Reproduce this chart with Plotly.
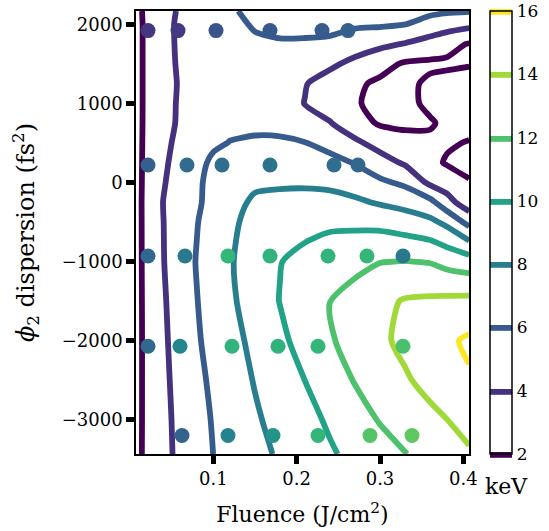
import plotly.graph_objects as go

# ---- contour grid (fluence x dispersion), values in keV ----
fluence_grid = [0.007, 0.020, 0.040, 0.060, 0.080, 0.100, 0.120, 0.150, 0.180,
                0.210, 0.240, 0.270, 0.300, 0.330, 0.360, 0.380, 0.407]
dispersion_grid = [-3433, -3000, -2500, -2000, -1500, -1000, -500, -250, 0,
                   250, 500, 750, 1000, 1250, 1500, 1750, 2000, 2168]
energy_grid = [
    [1.60, 2.32, 3.47, 4.43, 5.22, 6.01, 6.58, 7.42, 8.25, 9.02, 9.78, 10.51, 11.23, 11.94, 12.67, 13.15, 13.80],
    [1.56, 2.33, 3.52, 4.50, 5.33, 6.13, 6.78, 7.76, 8.61, 9.42, 10.27, 11.22, 12.12, 12.83, 13.53, 13.98, 14.60],
    [1.53, 2.35, 3.61, 4.63, 5.54, 6.35, 7.06, 8.11, 9.06, 10.01, 11.07, 12.10, 12.94, 13.78, 14.58, 15.10, 15.80],
    [1.50, 2.37, 3.70, 4.79, 5.79, 6.60, 7.35, 8.48, 9.60, 10.70, 11.80, 12.74, 13.64, 14.43, 15.16, 15.64, 16.30],
    [1.50, 2.39, 3.81, 4.90, 5.94, 6.82, 7.69, 8.85, 10.05, 11.00, 12.02, 12.76, 13.50, 14.15, 14.30, 14.40, 14.50],
    [1.50, 2.42, 3.94, 5.03, 6.08, 6.96, 7.84, 8.90, 9.95, 10.46, 10.95, 11.45, 11.94, 12.05, 11.90, 11.40, 10.95],
    [1.50, 2.43, 3.98, 4.96, 5.92, 6.78, 7.64, 8.60, 9.20, 9.50, 9.68, 9.60, 9.44, 8.98, 8.42, 7.57, 5.37],
    [1.50, 2.44, 4.03, 4.88, 5.75, 6.56, 7.35, 8.30, 8.43, 8.62, 8.62, 8.32, 7.80, 7.34, 6.54, 4.76, 2.83],
    [1.50, 2.40, 3.87, 4.82, 5.71, 6.50, 7.00, 7.68, 7.78, 7.74, 7.59, 7.13, 6.34, 5.64, 3.60, 3.06, 2.10],
    [1.50, 2.37, 3.71, 4.67, 5.52, 6.30, 6.70, 6.99, 6.99, 6.93, 6.62, 5.90, 4.80, 3.75, 2.50, 1.85, 1.60],
    [1.50, 2.34, 3.58, 4.43, 5.08, 5.74, 6.05, 6.15, 6.15, 6.05, 5.33, 4.38, 3.28, 2.55, 2.30, 2.20, 1.90],
    [1.50, 2.31, 3.46, 4.22, 4.60, 5.40, 5.60, 5.75, 5.70, 5.00, 4.10, 2.80, 1.80, 1.70, 1.85, 2.30, 2.60],
    [1.50, 2.30, 3.40, 4.20, 4.60, 4.90, 5.00, 5.00, 4.70, 3.95, 3.10, 2.14, 1.60, 1.60, 2.30, 2.60, 2.80],
    [1.50, 2.30, 3.35, 4.15, 4.50, 4.70, 4.80, 4.80, 4.60, 4.10, 3.20, 2.30, 1.70, 1.60, 2.30, 2.50, 2.60],
    [1.50, 2.30, 3.35, 4.25, 4.60, 4.80, 5.00, 5.10, 5.00, 4.70, 4.35, 3.50, 2.60, 1.80, 1.70, 1.75, 1.90],
    [1.50, 2.30, 3.40, 4.30, 4.80, 5.20, 5.40, 5.75, 5.80, 5.78, 5.64, 4.94, 4.42, 3.90, 3.10, 2.50, 1.90],
    [1.50, 2.30, 3.45, 4.30, 4.90, 5.30, 5.60, 6.15, 6.50, 6.50, 6.50, 6.30, 6.25, 6.02, 5.47, 4.97, 4.50],
    [1.60, 2.30, 3.37, 4.20, 4.73, 5.24, 5.85, 6.30, 6.70, 6.80, 6.80, 6.70, 6.60, 6.45, 6.30, 6.20, 6.10],
]

# ---- measured points ----
pts_fluence = [0.0216, 0.0576, 0.1032, 0.168, 0.2304, 0.2616,
               0.0216, 0.0684, 0.1104, 0.168, 0.2448, 0.2736,
               0.0216, 0.066, 0.1176, 0.168, 0.2376, 0.2844, 0.3276,
               0.0216, 0.060, 0.1224, 0.1776, 0.2256, 0.3276,
               0.0624, 0.1176, 0.1716, 0.2256, 0.288, 0.3384]
pts_dispersion = [1920] * 6 + [220] * 6 + [-930] * 7 + [-2070] * 6 + [-3200] * 6
pts_energy = [4.2, 4.4, 5.7, 5.9, 6.0, 6.4,
              6.2, 6.9, 7.1, 7.3, 7.0, 6.6,
              6.6, 7.7, 11.3, 11.1, 11.1, 11.3, 7.6,
              6.7, 8.4, 11.1, 11.0, 11.3, 11.9,
              6.4, 8.2, 9.2, 11.3, 12.2, 12.5]

x_ticks = [0.1, 0.2, 0.3, 0.4]
x_ticktext = ["0.1", "0.2", "0.3", "0.4"]
y_ticks = [-3000, -2000, -1000, 0, 1000, 2000]
cbar_ticks = [2, 4, 6, 8, 10, 12, 14, 16]

FONT = "DejaVu Serif"

fig = go.Figure()
fig.add_trace(go.Contour(
    x=fluence_grid, y=dispersion_grid, z=energy_grid,
    colorscale="Viridis", zmin=2, zmax=16, zauto=False,
    contours=dict(start=2, end=16, size=2, coloring="lines"),
    line=dict(width=5.8, smoothing=0.7),
    colorbar=dict(
        x=(490 - 136) / 333, xanchor="left", thickness=22,
        len=1, lenmode="fraction", y=0.5, yanchor="middle",
        xpad=0, ypad=0, outlinewidth=1.5, outlinecolor="black",
        tickvals=cbar_ticks, ticks="", ticklabeloverflow="allow",
        tickfont=dict(family=FONT, size=17, color="black"),
    ),
    hoverinfo="skip",
))
fig.add_trace(go.Scatter(
    x=pts_fluence, y=pts_dispersion, mode="markers",
    marker=dict(size=15, color=pts_energy, colorscale="Viridis", cmin=2, cmax=16,
                showscale=False, line=dict(width=0)),
    showlegend=False, hoverinfo="skip",
))

axis_common = dict(
    showline=True, linewidth=1.5, linecolor="black", mirror=True,
    ticks="outside", ticklen=8, tickwidth=5, tickcolor="black",
    showgrid=False, zeroline=False,
    tickfont=dict(family=FONT, size=18, color="black"),
)
fig.update_xaxes(range=[0.0072, 0.4068], tickvals=x_ticks, ticktext=x_ticktext,
                 title=dict(text="Fluence (J/cm<sup>2</sup>)", font=dict(family=FONT, size=22, color="black"), standoff=18),
                 **axis_common)
fig.update_yaxes(range=[-3433, 2168], tickvals=y_ticks,
                 title=dict(text="<i>ϕ</i><sub>2</sub> dispersion (fs<sup>2</sup>)", font=dict(family=FONT, size=24, color="black"), standoff=20),
                 **axis_common)

fig.add_annotation(text="keV", xref="paper", yref="paper", x=(506 - 136) / 333, y=(454.3 - 487) / 443.6,
                   xanchor="center", yanchor="middle", showarrow=False,
                   font=dict(family=FONT, size=22, color="black"))

fig.update_layout(
    width=549, height=531,
    margin=dict(l=136, r=80, t=11, b=77, pad=0, autoexpand=False),
    plot_bgcolor="white", paper_bgcolor="white",
    showlegend=False,
)

# remove the browser's default 8 px body margin so the figure sits at the window origin
fig.write_html("out.html", config={"displayModeBar": False},
               post_script="document.body.style.margin='0px';")
